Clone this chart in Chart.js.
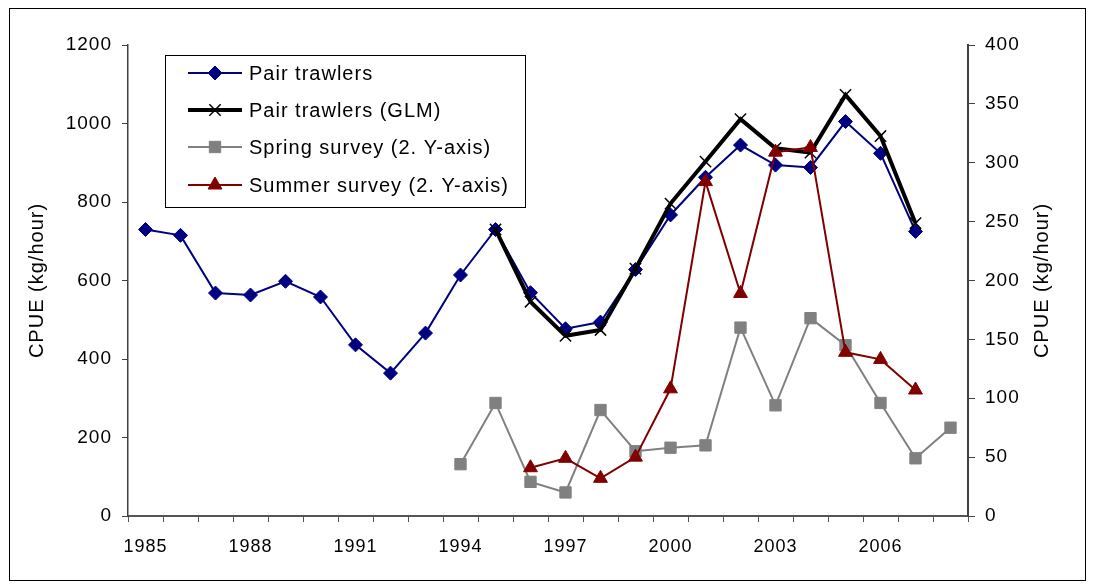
<!DOCTYPE html>
<html>
<head>
<meta charset="utf-8">
<script src="https://cdn.jsdelivr.net/npm/chart.js@4/dist/chart.umd.min.js"></script>
<style>
  html, body { margin: 0; padding: 0; background: #ffffff; }
  #wrap { width: 1093px; height: 588px; position: relative; }
</style>
</head>
<body>
<div id="wrap"><canvas id="cpue" width="1093" height="588"></canvas></div>
<script>
// Years on the category axis
const years = ['1985','1986','1987','1988','1989','1990','1991','1992','1993','1994','1995','1996',
               '1997','1998','1999','2000','2001','2002','2003','2004','2005','2006','2007','2008'];

// CPUE (kg/hour), left axis
const pairTrawlers = [730, 715, 568, 563, 598, 558, 436, 364, 466, 614, 730, 569,
                      477, 494, 628, 767, 863, 945, 894, 888, 1005, 924, 725, null];
const pairTrawlersGLM = [null, null, null, null, null, null, null, null, null, null, 730, 546,
                         459, 474, 630, 796, 903, 1011, 937, 926, 1073, 968, 746, null];

// CPUE (kg/hour), right axis
const springSurvey = [null, null, null, null, null, null, null, null, null, 44, 96, 29,
                      20, 90, 55, 58, 60, 160, 94, 168, 145, 96, 49, 75];
const summerSurvey = [null, null, null, null, null, null, null, null, null, null, null, 41,
                      49, 32, 50, 108, 284, 189, 309, 313, 139, 133, 107, null];

// Axis tick settings
const leftTicks = { min: 0, max: 1200, step: 200 };
const rightTicks = { min: 0, max: 400, step: 50 };
const yearLabelEvery = 3;

const FONT = "'Liberation Sans', Arial, sans-serif";
const TXT = 20;

const datasets = [
  {
    label: 'Pair trawlers',
    data: pairTrawlers,
    yAxisID: 'y',
    borderColor: '#000080',
    backgroundColor: '#000080',
    borderWidth: 2,
    pointStyle: 'rectRot',
    pointRadius: 7,
    pointBackgroundColor: '#000080',
    pointBorderColor: '#000080',
    pointBorderWidth: 1,
    order: 3
  },
  {
    label: 'Pair trawlers (GLM)',
    data: pairTrawlersGLM,
    yAxisID: 'y',
    borderColor: '#000000',
    backgroundColor: '#000000',
    borderWidth: 4,
    pointStyle: 'crossRot',
    pointRadius: 8,
    pointBorderColor: '#000000',
    pointBorderWidth: 1.5,
    order: 2
  },
  {
    label: 'Spring survey (2. Y-axis)',
    data: springSurvey,
    yAxisID: 'y2',
    borderColor: '#808080',
    backgroundColor: '#808080',
    borderWidth: 2,
    pointStyle: 'rect',
    pointRadius: 8,
    pointBackgroundColor: '#808080',
    pointBorderColor: '#808080',
    pointBorderWidth: 1,
    order: 1
  },
  {
    label: 'Summer survey (2. Y-axis)',
    data: summerSurvey,
    yAxisID: 'y2',
    borderColor: '#800000',
    backgroundColor: '#800000',
    borderWidth: 2,
    pointStyle: 'triangle',
    pointRadius: 8,
    pointBackgroundColor: '#800000',
    pointBorderColor: '#800000',
    pointBorderWidth: 1,
    order: 0
  }
];

// Slightly spaced lettering for all chart text
const spacing = {
  id: 'spacing',
  beforeDraw(chart) { chart.ctx.letterSpacing = '1px'; }
};

// Outer frame, rotated axis titles and the boxed legend
const decorations = {
  id: 'decorations',
  afterDraw(chart) {
    const ctx = chart.ctx;
    const area = chart.chartArea;
    ctx.save();
    ctx.letterSpacing = '1px';

    // frame around the whole figure
    ctx.strokeStyle = '#000000';
    ctx.lineWidth = 1;
    ctx.strokeRect(9.5, 8.5, 1076, 572);

    // axis titles, both reading bottom to top
    ctx.fillStyle = '#000000';
    ctx.font = TXT + 'px ' + FONT;
    ctx.textAlign = 'center';
    ctx.textBaseline = 'middle';
    const midY = (area.top + area.bottom) / 2;
    [[37, 'CPUE (kg/hour)'], [1042, 'CPUE (kg/hour)']].forEach(([x, t]) => {
      ctx.save();
      ctx.translate(x, midY);
      ctx.rotate(-Math.PI / 2);
      ctx.fillText(t, 0, 0);
      ctx.restore();
    });

    // legend box
    const box = { x: 165.5, y: 55.5, w: 360, h: 152 };
    ctx.fillStyle = '#ffffff';
    ctx.fillRect(box.x, box.y, box.w, box.h);
    ctx.strokeStyle = '#000000';
    ctx.lineWidth = 1;
    ctx.strokeRect(box.x, box.y, box.w, box.h);

    const rowY = [73, 110, 147, 185];
    const lineX0 = 188, lineX1 = 242, markX = 215, textX = 249;
    chart.data.datasets.forEach((ds, i) => {
      const y = rowY[i];
      ctx.strokeStyle = ds.borderColor;
      ctx.lineWidth = ds.borderWidth;
      ctx.beginPath();
      ctx.moveTo(lineX0, y);
      ctx.lineTo(lineX1, y);
      ctx.stroke();
      ctx.fillStyle = ds.pointBackgroundColor || ds.borderColor;
      ctx.strokeStyle = ds.pointBorderColor || ds.borderColor;
      ctx.lineWidth = ds.pointBorderWidth;
      Chart.helpers.drawPoint(ctx, {
        pointStyle: ds.pointStyle,
        radius: ds.pointRadius,
        rotation: 0,
        borderWidth: ds.pointBorderWidth
      }, markX, y);
      ctx.fillStyle = '#000000';
      ctx.font = TXT + 'px ' + FONT;
      ctx.textAlign = 'left';
      ctx.textBaseline = 'middle';
      ctx.fillText(ds.label, textX, y + 1);
    });
    ctx.restore();
  }
};

new Chart(document.getElementById('cpue'), {
  type: 'line',
  data: { labels: years, datasets: datasets },
  plugins: [spacing, decorations],
  options: {
    responsive: false,
    animation: false,
    events: [],
    layout: { padding: { top: 45, left: 0, right: 0, bottom: 0 } },
    elements: { line: { tension: 0 } },
    plugins: {
      legend: { display: false },
      tooltip: { enabled: false },
      title: { display: false }
    },
    scales: {
      x: {
        type: 'category',
        offset: true,
        afterFit(scale) { scale.height = 72; },
        border: { display: true, color: '#555555', width: 2 },
        grid: {
          display: true,
          offset: true,
          drawOnChartArea: false,
          drawTicks: true,
          tickLength: 6,
          color: '#555555',
          lineWidth: 1
        },
        ticks: {
          autoSkip: false,
          maxRotation: 0,
          minRotation: 0,
          padding: 14,
          color: '#000000',
          font: { family: FONT, size: 18 },
          callback(value, index) {
            return index % yearLabelEvery === 0 ? this.getLabelForValue(value) : '';
          }
        }
      },
      y: {
        position: 'left',
        min: leftTicks.min,
        max: leftTicks.max,
        afterFit(scale) { scale.width = 128; },
        border: { display: true, color: '#404040', width: 1.5 },
        grid: {
          display: true,
          drawOnChartArea: false,
          drawTicks: true,
          tickLength: 6,
          color: '#404040'
        },
        ticks: {
          stepSize: leftTicks.step,
          padding: 10,
          color: '#000000',
          font: { family: FONT, size: 19 },
          callback(value) { return String(value); }
        }
      },
      y2: {
        position: 'right',
        min: rightTicks.min,
        max: rightTicks.max,
        afterFit(scale) { scale.width = 125; },
        border: { display: true, color: '#404040', width: 2 },
        grid: {
          display: true,
          drawOnChartArea: false,
          drawTicks: true,
          tickLength: 7,
          color: '#404040'
        },
        ticks: {
          stepSize: rightTicks.step,
          padding: 10,
          color: '#000000',
          font: { family: FONT, size: 19 },
          callback(value) { return String(value); }
        }
      }
    }
  }
});
</script>
</body>
</html>
